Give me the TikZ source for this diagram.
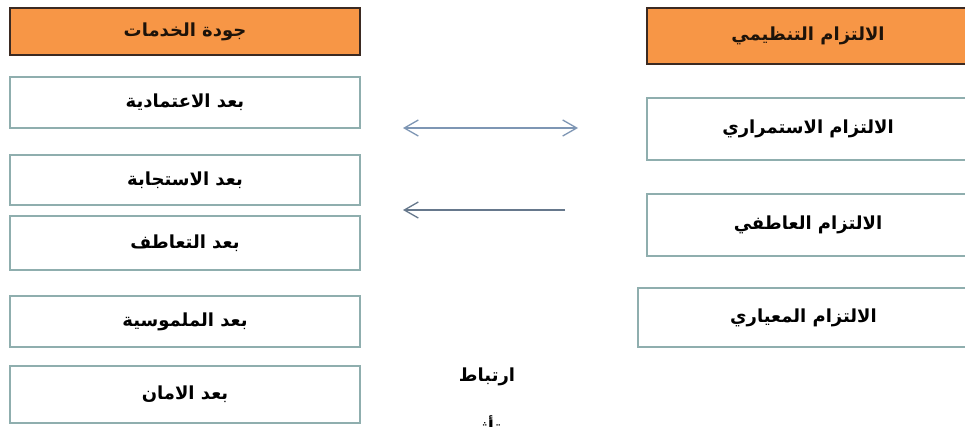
\documentclass[tikz,border=0pt]{standalone}
\usepackage{fontspec}
\usetikzlibrary{arrows.meta}
\TeXXeTstate=1
\newfontfamily\arabicfont[Script=Arabic]{DejaVu Sans}
\definecolor{headfill}{HTML}{F79646}
\definecolor{headline}{HTML}{3B2A22}
\definecolor{boxline}{HTML}{8FAEAE}
\definecolor{arrowa}{HTML}{7E96B4}
\definecolor{arrowb}{HTML}{66788C}
\tikzset{
  headbox/.style={draw=headline, line width=1.3pt, fill=headfill, text=black!85!brown,
    font=\arabicfont\bfseries\fontsize{18}{20}\selectfont, inner sep=0pt},
  dimbox/.style={draw=boxline, line width=1.1pt, fill=white,
    font=\arabicfont\bfseries\fontsize{18}{20}\selectfont, inner sep=0pt},
  linktext/.style={font=\arabicfont\bfseries\fontsize{18}{20}\selectfont, inner sep=0pt},
  barb/.tip={Straight Barb[length=14pt,width=16pt]},
  relarrow/.style={line width=1.3pt}
}
\newcommand{\ar}[1]{\beginR #1\endR}
\begin{document}
\begin{tikzpicture}[x=1pt,y=-1pt]
\useasboundingbox (0,0) rectangle (965,426);
\clip (0,0) rectangle (965,426);
\fill[white] (0,0) rectangle (965,426);

% left column: service quality and its dimensions
\node[headbox, minimum width=350pt, minimum height=47pt] (lhead) at (185,31.5) {\ar{جودة الخدمات}};
\node[dimbox, minimum width=350pt, minimum height=51pt] (l1) at (185,102.5) {\ar{بعد الاعتمادية}};
\node[dimbox, minimum width=350pt, minimum height=50pt] (l2) at (185,180) {\ar{بعد الاستجابة}};
\node[dimbox, minimum width=350pt, minimum height=54pt] (l3) at (185,243) {\ar{بعد التعاطف}};
\node[dimbox, minimum width=350pt, minimum height=51pt] (l4) at (185,321.5) {\ar{بعد الملموسية}};
\node[dimbox, minimum width=350pt, minimum height=57pt] (l5) at (185,394.5) {\ar{بعد الامان}};

% right column: organisational commitment and its dimensions
\node[headbox, minimum width=322pt, minimum height=56pt] (rhead) at (808,36) {\ar{الالتزام التنظيمي}};
\node[dimbox, minimum width=322pt, minimum height=62pt] (r1) at (808,129) {\ar{الالتزام الاستمراري}};
\node[dimbox, minimum width=322pt, minimum height=62pt] (r2) at (808,225) {\ar{الالتزام العاطفي}};
\node[dimbox, minimum width=331pt, minimum height=59pt] (r3) at (803.5,317.5) {\ar{الالتزام المعياري}};

% relation arrows
\coordinate (corrL) at (403,128);
\coordinate (corrR) at (578,128);
\coordinate (effL) at (403,210);
\coordinate (effR) at (565,210);
\draw[relarrow, arrowa, arrows={barb-barb}] (corrL) -- (corrR);
\draw[relarrow, arrowb, arrows={-barb}] (effR) -- (effL);

% legend
\node[linktext] (lgcorr) at (487,377) {\ar{ارتباط}};
\node[linktext] (lgeff) at (482,427) {\ar{تأثير}};
\end{tikzpicture}
\end{document}
